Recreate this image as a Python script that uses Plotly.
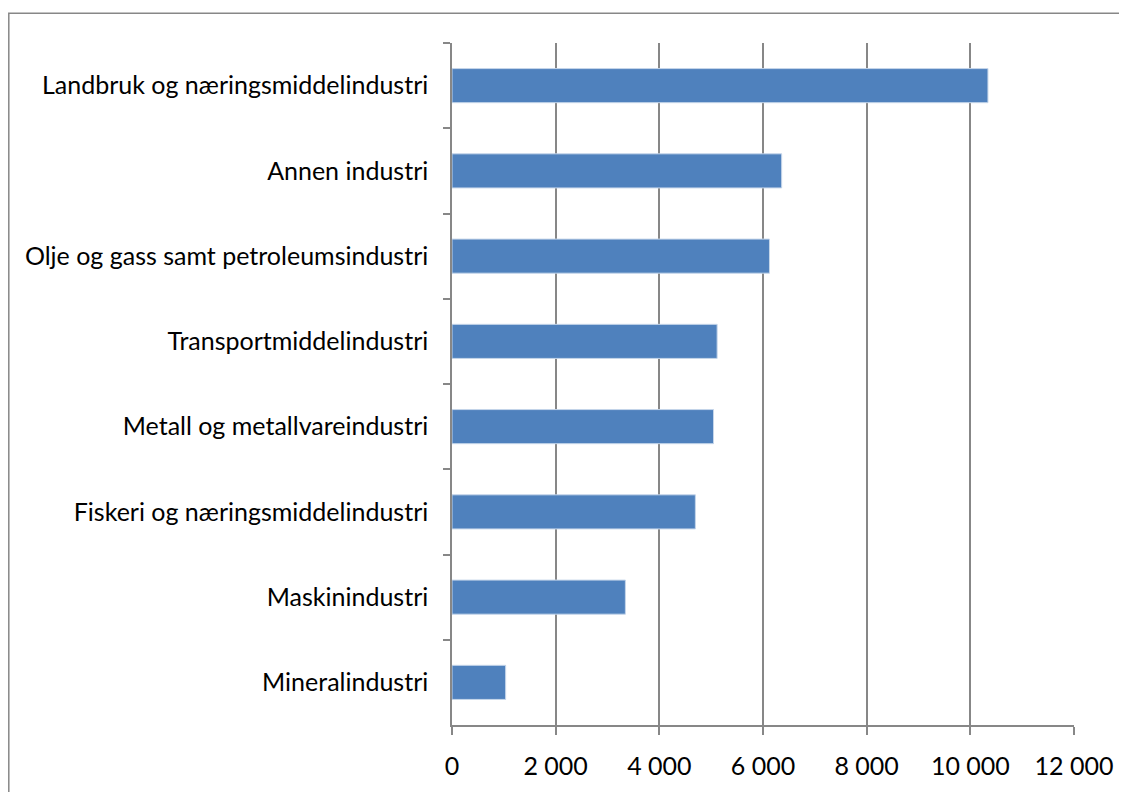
import plotly.graph_objects as go

categories = [
    "Landbruk og næringsmiddelindustri",
    "Annen industri",
    "Olje og gass samt petroleumsindustri",
    "Transportmiddelindustri",
    "Metall og metallvareindustri",
    "Fiskeri og næringsmiddelindustri",
    "Maskinindustri",
    "Mineralindustri",
]
values = [10340, 6360, 6125, 5115, 5045, 4695, 3345, 1035]

tick_values = [0, 2000, 4000, 6000, 8000, 10000, 12000]
tick_labels = ["0", "2 000", "4 000", "6 000", "8 000", "10 000", "12 000"]

# page has 8px body margin, so figure is shifted by (8, 8)
W, H = 1119, 784
L, R, T, B = 444, 53, 35, 62
pw, ph = W - L - R, H - T - B

fig = go.Figure(go.Bar(
    x=values, y=categories, orientation="h",
    marker=dict(color="#4F81BD", line=dict(color="#C6D6EA", width=1)),
    width=0.4,
))

grey = "#878787"
fig.update_layout(
    width=W, height=H,
    margin=dict(l=L, r=R, t=T, b=B, pad=0),
    paper_bgcolor="white", plot_bgcolor="white",
    font=dict(family="Lato", size=25, color="black"),
    showlegend=False,
    xaxis=dict(
        range=[0, 12000], tickvals=tick_values, ticktext=tick_labels,
        showgrid=True, gridcolor=grey, gridwidth=1.5,
        showline=True, linecolor=grey, linewidth=1.5,
        ticks="outside", ticklen=8, tickcolor=grey, tickwidth=1.5,
        zeroline=False, fixedrange=True, ticklabelstandoff=10,
    ),
    yaxis=dict(
        autorange="reversed", tickson="boundaries",
        showline=True, linecolor=grey, linewidth=1.5,
        ticks="outside", ticklen=7, tickcolor=grey, tickwidth=1.5,
        showgrid=False, ticklabelstandoff=17,
    ),
    shapes=[dict(
        type="rect", xref="paper", yref="paper",
        x0=(0.8 - L) / pw, x1=(1300 - L) / pw,
        y0=(H - B - 900) / ph, y1=(H - B - 5) / ph,
        line=dict(color=grey, width=1.5), fillcolor="rgba(0,0,0,0)",
    )],
)

fig.write_html("out.html")
